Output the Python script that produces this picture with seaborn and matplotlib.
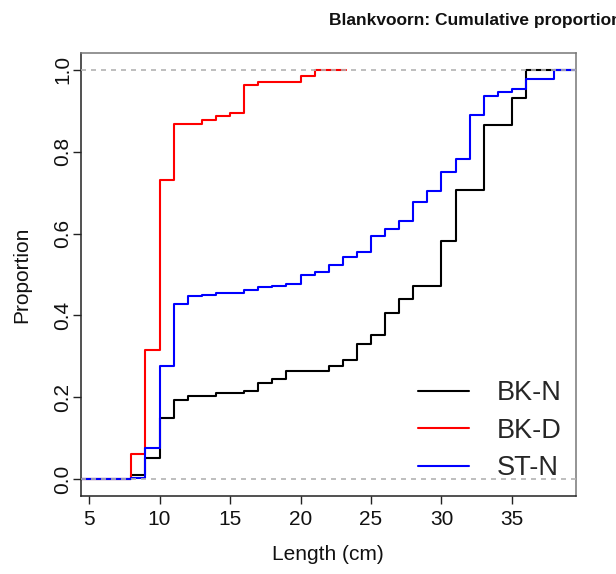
import matplotlib
matplotlib.use("Agg")
import matplotlib.pyplot as plt
import seaborn as sns
import pandas as pd
from matplotlib.lines import Line2D

# ---- data ----
groups = ["BK-N", "BK-D", "ST-N"]
colors = ["#000000", "#FF0000", "#0000FF"]

bkn_x = [8, 9, 10, 11, 12, 14, 16, 17, 18, 19, 22, 23, 24, 25, 26, 27, 28, 30, 31, 33, 35, 36]
bkn_y = [0.010, 0.052, 0.149, 0.194, 0.203, 0.210, 0.215, 0.235, 0.245, 0.264, 0.276, 0.292,
         0.330, 0.352, 0.405, 0.441, 0.471, 0.582, 0.707, 0.864, 0.930, 1.0]

bkd_x = [8, 9, 10, 11, 13, 14, 15, 16, 17, 20, 21]
bkd_y = [0.063, 0.316, 0.730, 0.867, 0.877, 0.887, 0.894, 0.963, 0.970, 0.985, 1.0]

stn_x = [8, 9, 10, 11, 12, 13, 14, 16, 17, 18, 19, 20, 21, 22, 23, 24, 25, 26, 27, 28,
         29, 30, 31, 32, 33, 34, 35, 36, 38]
stn_y = [0.004, 0.076, 0.277, 0.429, 0.447, 0.451, 0.456, 0.461, 0.470, 0.473, 0.478, 0.499,
         0.505, 0.523, 0.543, 0.556, 0.593, 0.611, 0.630, 0.678, 0.704, 0.750, 0.783, 0.889,
         0.936, 0.946, 0.954, 0.977, 1.0]

# extent of each step curve (x where curve starts / ends)
curve_start = [4.41, 4.41, 4.41]
curve_end = [39.54, 23.2, 39.54]

x_ticks = [5, 10, 15, 20, 25, 30, 35]
y_ticks = [0.0, 0.2, 0.4, 0.6, 0.8, 1.0]
y_ticklabels = ["0.0", "0.2", "0.4", "0.6", "0.8", "1.0"]

title = "Blankvoorn: Cumulative proportion"
xlabel = "Length (cm)"
ylabel = "Proportion"

# ---- build long table ----
rows = []
for g, xs, ys, x0, x1 in zip(groups, [bkn_x, bkd_x, stn_x], [bkn_y, bkd_y, stn_y],
                             curve_start, curve_end):
    pts_x = [x0] + list(xs) + [x1]
    pts_y = [0.0] + list(ys) + [ys[-1]]
    for i, (a, b) in enumerate(zip(pts_x, pts_y)):
        rows.append({"group": g, "length": a, "prop": b, "order": i})
df = pd.DataFrame(rows)

sns.set_theme(style="white")
plt.rcParams["font.family"] = ["Liberation Sans", "DejaVu Sans"]

W, H = 616, 574
fig = plt.figure(figsize=(W / 100, H / 100), dpi=100)
L, R, T, B = 80.7, 576.0, 52.7, 496.3
ax = fig.add_axes([L / W, 1 - B / H, (R - L) / W, (B - T) / H])

sns.lineplot(data=df, x="length", y="prop", hue="group", hue_order=groups,
             palette=dict(zip(groups, colors)), drawstyle="steps-post",
             estimator=None, sort=False, linewidth=1.5, ax=ax, legend=False)

for yv in (0.0, 1.0):
    ax.axhline(yv, color="#B3B3B3", linestyle=(0, (3, 3)), linewidth=1.2, zorder=5)

ax.set_xlim(4.41, 39.54)
ax.set_ylim(-0.0414, 1.0414)
ax.set_xticks(x_ticks)
ax.set_xticklabels([str(v) for v in x_ticks])
ax.set_yticks(y_ticks)
ax.set_yticklabels(y_ticklabels, rotation=90, va="center")

ax.tick_params(axis="both", which="major", direction="out", length=6, width=1,
               color="#222222", labelsize=15, labelcolor="#111111", bottom=True, left=True)
ax.tick_params(axis="x", pad=4)
ax.tick_params(axis="y", pad=0)

for side in ["left", "bottom"]:
    ax.spines[side].set_color("#222222")
    ax.spines[side].set_linewidth(1.1)
for side in ["top", "right"]:
    ax.spines[side].set_color("#777777")
    ax.spines[side].set_linewidth(1.1)

ax.set_xlabel(xlabel, fontsize=15, color="#111111")
ax.set_ylabel(ylabel, fontsize=15, color="#111111")
ax.xaxis.set_label_coords(0.5, -0.11)
ax.yaxis.set_label_coords(-0.10, 0.5)

handles = [Line2D([0], [0], color=c, linewidth=1.5) for c in colors]
ax.legend(handles, groups, loc="upper left", frameon=False, fontsize=19.5,
          bbox_to_anchor=(418 / W, 1 - 380 / H), bbox_transform=fig.transFigure,
          borderpad=0, borderaxespad=0, handlelength=1.9, handletextpad=1.0,
          labelspacing=0.43)

fig.text(329 / W, 1 - 20 / H, title, ha="left", va="center", fontsize=12.5,
         fontweight="bold", color="#111111")

fig.savefig("out.png", dpi=100)
